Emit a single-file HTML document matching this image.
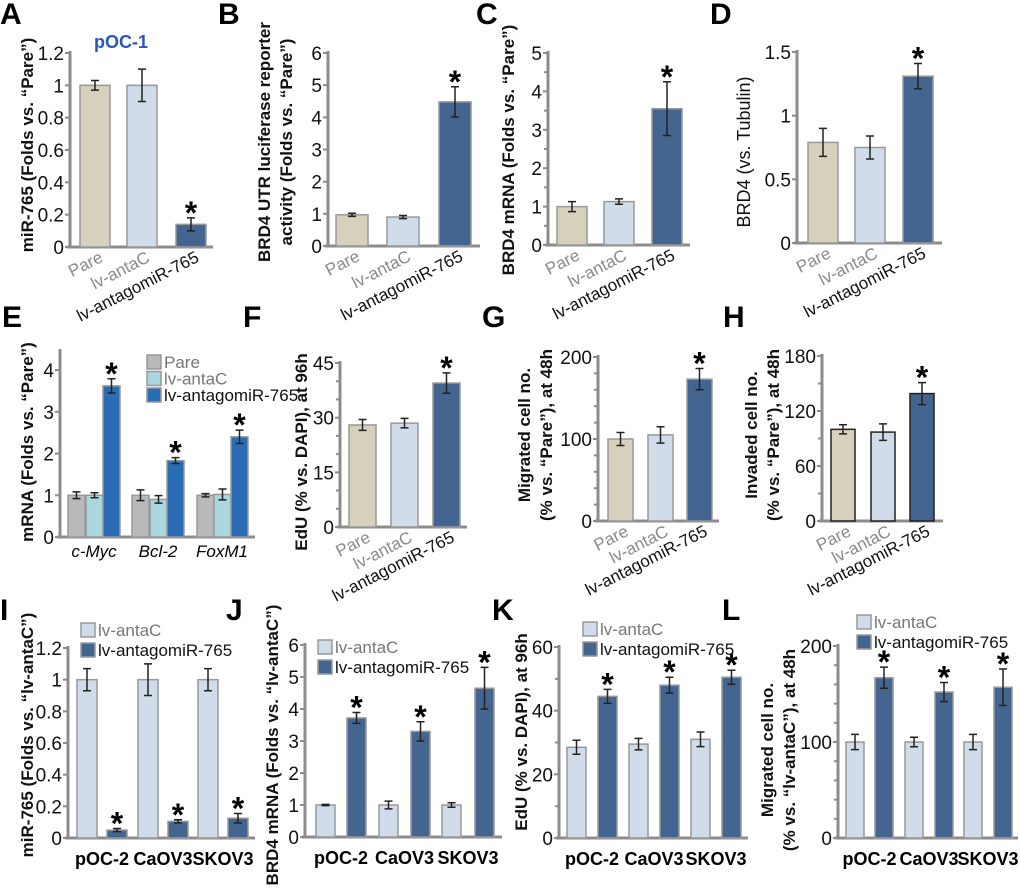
<!DOCTYPE html>
<html><head><meta charset="utf-8"><style>
body{margin:0;background:#fff}
svg{display:block;font-family:"Liberation Sans",Arial,sans-serif}
</style></head><body>
<svg id="fig" width="1020" height="888" viewBox="0 0 1020 888" xmlns="http://www.w3.org/2000/svg"></svg>
<script>
// ---- data ----
const catsABCD = ["Pare","lv-antaC","lv-antagomiR-765"];
const aVals = [1.0,1.0,0.14];  const aErr = [0.03,0.1,0.04];
const bVals = [0.97,0.9,4.48]; const bErr = [0.05,0.05,0.47];
const cVals = [1.0,1.13,3.55]; const cErr = [0.13,0.07,0.7];
const dVals = [0.79,0.75,1.31];const dErr = [0.11,0.09,0.1];
const eCats = ["c-Myc","Bcl-2","FoxM1"];
const eSeries = ["Pare","lv-antaC","lv-antagomiR-765"];
const ePare = [1.0,1.0,1.0];   const ePareErr = [0.08,0.13,0.04];
const eCtrl = [1.0,0.9,1.02];  const eCtrlErr = [0.06,0.09,0.13];
const eAnta = [3.62,1.83,2.4]; const eAntaErr = [0.17,0.07,0.16];
const fVals = [28,28.5,39.5];  const fErr = [1.5,1.3,2.8];
const gVals = [100,105,173];   const gErr = [8,10,13];
const hVals = [100,97,139];    const hErr = [5,9,12];
const lineCats = ["pOC-2","CaOV3","SKOV3"];
const iCtrl = [1,1,1];         const iCtrlErr = [0.07,0.1,0.07];
const iAnta = [0.05,0.105,0.125]; const iAntaErr = [0.01,0.01,0.03];
const jCtrl = [1,1,1];         const jCtrlErr = [0.02,0.12,0.07];
const jAnta = [3.72,3.3,4.65]; const jAntaErr = [0.17,0.3,0.65];
const kCtrl = [28.5,29.5,31];  const kCtrlErr = [2.2,1.8,2.3];
const kAnta = [44.5,48,50.5];  const kAntaErr = [2.2,2.5,2.2];
const lCtrl = [100,100,100];   const lCtrlErr = [8,5,8];
const lAnta = [167,152,157];   const lAntaErr = [11,10,19];
const aTicks=["0","0.2","0.4","0.6","0.8","1","1.2"];
const bTicks=["0","1","2","3","4","5","6"];
const cTicks=["0","1","2","3","4","5"];
const dTicks=["0","0.5","1","1.5"];
const eTicks=["0","1","2","3","4"];
const fTicks=["0","15","30","45"];
const gTicks=["0","100","200"];
const hTicks=["0","60","120","180"];
const jTicks=["0","1","2","3","4","5","6"];
const kTicks=["0","20","40","60"];
const lTicks=["0","100","200"];

const NS="http://www.w3.org/2000/svg";
const svg=document.getElementById('fig');
const C_PARE="#d6d0bd",C_CTRL="#d0dce9",C_ANTA="#456591",AX="#8c8c8c";
function el(tag,attrs,parent,text){const e=document.createElementNS(NS,tag);for(const k in attrs)e.setAttribute(k,attrs[k]);if(text!==undefined)e.textContent=text;(parent||svg).appendChild(e);return e;}

function letter(ch,x,y){
  const t=el('text',{x:x,y:y,'font-size':30,'font-weight':'bold'},svg,ch);
  
  
}
function axes(p){
  const g=el('g',{});
  
  
  const ys=v=>p.y0-(v/p.max)*(p.y0-p.ytop);
  const yl=el('line',{x1:p.ax,y1:p.y0,x2:p.ax,y2:(p.axTop||p.ytop)-2,stroke:AX,'stroke-width':3},g);
  
  
  const xl=el('line',{x1:p.ax-3,y1:p.y0,x2:p.x1,y2:p.y0,stroke:AX,'stroke-width':3},g);
  
  
  const n=p.ticks.length-1;
  for(let i=0;i<=n;i++){
    const v=p.max*i/n,y=ys(v);
    el('line',{x1:p.ax-5,y1:y,x2:p.ax,y2:y,stroke:AX,'stroke-width':2},g);
    const t=el('text',{x:p.ax-6,y:y+7,'font-size':19,'text-anchor':'end',fill:'#111'},g,p.ticks[i]);
    
    
  }
  if(p.minor){const m=p.minor;for(let k=1;k<n*m;k++){if(k%m)el('line',{x1:p.ax-4,y1:ys(p.max*k/(n*m)),x2:p.ax,y2:ys(p.max*k/(n*m)),stroke:AX,'stroke-width':2},g);}}
  p.ylabel.forEach((s,i)=>{
    const x=p.lx[i],cy=p.lcy;
    const t=el('text',{x:x,y:cy,'font-size':p.lfs||17,'font-weight':p.bold===false?'normal':'bold','text-anchor':'middle',transform:`rotate(-90 ${x} ${cy})`,fill:'#111'},g,s);
    
    
  });
  p.ys=ys;p.g=g;return p;
}
function bar(p,x,w,v,e,fill,stroke,star,name){
  const y=p.ys(v);
  const r=el('rect',{x:x,y:y,width:w,height:p.y0-y,fill:fill,stroke:stroke||'#999','stroke-width':1.5},p.g);
  
  
  const cx=x+w/2,yt=p.ys(v+e),yb=p.ys(v-e);
  el('path',{d:`M${cx} ${yt}V${yb}M${cx-4} ${yt}H${cx+4}M${cx-4} ${yb}H${cx+4}`,stroke:'#222','stroke-width':1.5,fill:'none'},p.g);
  if(star){const s=el('text',{x:cx,y:yt+6,'font-size':32,'font-weight':'bold','text-anchor':'middle'},p.g,'*');
    
    }
}
function rotCats(p,centers){
  catsABCD.forEach((c,i)=>{
    const x=centers[i]+9,y=p.y0+14;
    const t=el('text',{x:x,y:y,'font-size':17,'text-anchor':'end',fill:i<2?'#8a8a8a':'#111',transform:`rotate(-27 ${x} ${y})`},p.g,c);
    
    
  });
}
function simple(p,xs,w,vals,errs,outline){
  const cols=[C_PARE,C_CTRL,C_ANTA];
  vals.forEach((v,i)=>bar(p,xs[i],w,v,errs[i],cols[i],outline,i===2,'bar-'+p.id+'-'+i));
  rotCats(p,xs.map(x=>x+w/2));
}
function legendItem(g,x,y,fill,label,fs,gray){
  const r=el('rect',{x:x,y:y,width:14,height:14,fill:fill,stroke:'#999','stroke-width':1.5},g);
  
  
  const t=el('text',{x:x+17,y:y+13,'font-size':fs||17,fill:gray?'#777':'#111'},g,label);
  
  
}
function paired(p,xs,w,ctrl,ce,anta,ae,leg){
  ctrl.forEach((v,i)=>{bar(p,xs[2*i],w,v,ce[i],C_CTRL,'#999',false,'bar-'+p.id+'-ctrl-'+i);bar(p,xs[2*i+1],w,anta[i],ae[i],C_ANTA,'#999',true,'bar-'+p.id+'-anta-'+i);});
  lineCats.forEach((c,i)=>{const cx=(xs[2*i]+xs[2*i+1]+w)/2;
    const t=el('text',{x:cx,y:p.y0+27,'font-size':18,'font-weight':'bold','text-anchor':'middle'},p.g,c);
    
    });
  legendItem(p.g,leg[0],leg[1],C_CTRL,'lv-antaC',17,true);
  legendItem(p.g,leg[0],leg[1]+20,C_ANTA,'lv-antagomiR-765',17,false);
}

// ---- Panel A ----
letter('A',0,24);
let pA=axes({id:'a',ax:70,x1:213,y0:247,ytop:53,max:1.2,ticks:aTicks,ylabel:['miR-765 (Folds vs. \u201cPare\u201d)'],lx:[33],lcy:145});
simple(pA,[80,127,176],30,aVals,aErr);
const tt=el('text',{x:121,y:48,'font-size':18,'font-weight':'bold',fill:'#2a56b5','text-anchor':'middle'},svg,'pOC-1');


// ---- B ----
letter('B',218,24);
let pB=axes({id:'b',ax:328,x1:480,y0:246,ytop:53,max:6,ticks:bTicks,ylabel:['BRD4 UTR luciferase reporter','activity (Folds vs. \u201cPare\u201d)'],lx:[270,292],lcy:142});
simple(pB,[336,387,439],32,bVals,bErr);
// ---- C ----
letter('C',476,24);
let pC=axes({id:'c',ax:548,x1:690,y0:245,ytop:53,max:5,ticks:cTicks,minor:2,ylabel:['BRD4 mRNA (Folds vs. \u201cPare\u201d)'],lx:[514],lcy:150});
simple(pC,[557,604,652],30,cVals,cErr);
// ---- D ----
letter('D',710,24);
let pD=axes({id:'d',ax:797,x1:942,y0:243,ytop:52,max:1.5,ticks:dTicks,ylabel:['BRD4 (vs. Tubulin)'],lx:[750],lcy:152,bold:false,lfs:18});
simple(pD,[808,855,903],30,dVals,dErr);
// ---- E ----
letter('E',2,327);
let pE=axes({id:'e',ax:60,x1:255,y0:537,ytop:370,axTop:351,max:4,ticks:eTicks,ylabel:['mRNA (Folds vs. \u201cPare\u201d)'],lx:[33],lcy:442});
const eX=[[68,86,103],[132,150,167],[197,214,231]];
const eCols=['#b9b9bc','#a9d6df','#2a6db5'];
eCats.forEach((c,i)=>{
  bar(pE,eX[i][0],17,ePare[i],ePareErr[i],eCols[0],'#999',false,'bar-e-pare-'+i);
  bar(pE,eX[i][1],17,eCtrl[i],eCtrlErr[i],eCols[1],'#999',false,'bar-e-ctrl-'+i);
  bar(pE,eX[i][2],17,eAnta[i],eAntaErr[i],eCols[2],'#999',true,'bar-e-anta-'+i);
  const t=el('text',{x:eX[i][1]+8,y:557,'font-size':17,'font-style':'italic','text-anchor':'middle'},pE.g,c);
  
  
});
eSeries.forEach((s,i)=>legendItem(pE.g,147,355+i*16.5,eCols[i],s,17,i<2));
// ---- F ----
letter('F',243,327);
let pF=axes({id:'f',ax:340,x1:467,y0:527,ytop:363,max:45,ticks:fTicks,minor:3,ylabel:['EdU (% vs. DAPI), at 96h'],lx:[307],lcy:452});
simple(pF,[349,391,433],27,fVals,fErr);
// ---- G ----
letter('G',482,327);
let pG=axes({id:'g',ax:598,x1:719,y0:521,ytop:357,max:200,ticks:gTicks,minor:5,ylabel:['Migrated cell no.','(% vs. \u201cPare\u201d), at 48h'],lx:[530,552],lcy:435});
simple(pG,[608,648,687],25,gVals,gErr);
// ---- H ----
letter('H',723,327);
let pH=axes({id:'h',ax:822,x1:943,y0:521,ytop:356,max:180,ticks:hTicks,minor:2,ylabel:['Invaded cell no.','(% vs. \u201cPare\u201d), at 48h'],lx:[757,779],lcy:435});
simple(pH,[831,871,910],24,hVals,hErr,'#222');
// ---- I ----
letter('I',0,620);
let pI=axes({id:'i',ax:68,x1:255,y0:838,ytop:648,max:1.2,ticks:aTicks,ylabel:['miR-765 (Folds vs. \u201clv-antaC\u201d)'],lx:[33],lcy:735});
paired(pI,[77,107,138,168,198,228],20,iCtrl,iCtrlErr,iAnta,iAntaErr,[81,623]);
// ---- J ----
letter('J',226,620);
let pJ=axes({id:'j',ax:305,x1:502,y0:837,ytop:645,max:6,ticks:jTicks,ylabel:['BRD4 mRNA (Folds vs. \u201clv-antaC\u201d)'],lx:[278],lcy:745});
paired(pJ,[316,347,379,411,442,475],19,jCtrl,jCtrlErr,jAnta,jAntaErr,[318,640]);
// ---- K ----
letter('K',492,620);
let pK=axes({id:'k',ax:559,x1:748,y0:838,ytop:647,max:60,ticks:kTicks,minor:2,ylabel:['EdU (% vs. DAPI), at 96h'],lx:[527],lcy:732});
paired(pK,[567,598,629,660,691,722],19,kCtrl,kCtrlErr,kAnta,kAntaErr,[583,622]);
// ---- L ----
letter('L',722,620);
let pL=axes({id:'l',ax:838,x1:1018,y0:838,ytop:646,max:200,ticks:lTicks,minor:5,ylabel:['Migrated cell no.','(% vs. \u201clv-antaC\u201d), at 48h'],lx:[773,795],lcy:750});
paired(pL,[846,875,905,935,964,994],18,lCtrl,lCtrlErr,lAnta,lAntaErr,[857,615]);
</script>
</body></html>
